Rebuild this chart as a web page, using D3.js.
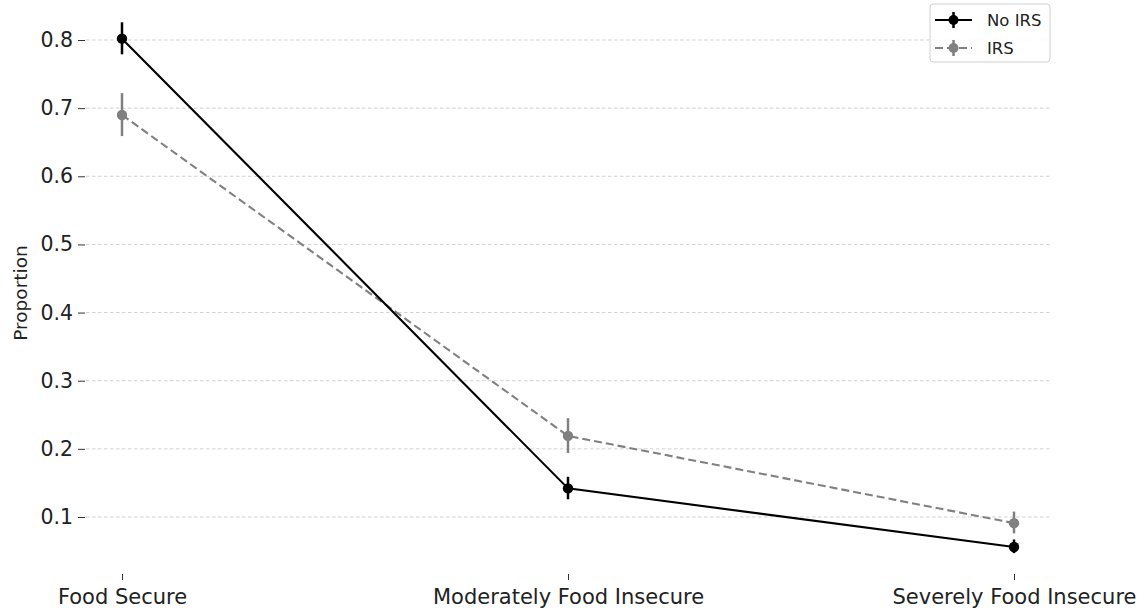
<!DOCTYPE html>
<html>
<head>
<meta charset="utf-8">
<script src="https://cdn.jsdelivr.net/npm/d3@7"></script>
<style>
body{margin:0;background:#fff;}
svg{display:block;}
svg text{font-family:"DejaVu Sans",sans-serif;}
</style>
</head>
<body>
<script>
let cats=["Food Secure","Moderately Food Insecure","Severely Food Insecure"];
let yTicks=[0.1,0.2,0.3,0.4,0.5,0.6,0.7,0.8];
let noIrs=[0.802,0.142,0.056];
let noIrsLo=[0.779,0.126,0.047];
let noIrsHi=[0.826,0.159,0.067];
let irs=[0.690,0.219,0.091];
let irsLo=[0.659,0.194,0.076];
let irsHi=[0.722,0.245,0.108];

let w=1148,h=611;
let svg=d3.select("body").append("svg").attr("width",w).attr("height",h);

// plot area
let padL=86,padR=1050,padB=574;
let x=d3.scalePoint().domain(cats).range([122,1014]);
let y=d3.scaleLinear().domain([0.1,0.8]).range([517,40]);

// grid
svg.append("g").selectAll("line").data(yTicks).enter().append("line")
  .attr("x1",padL).attr("x2",padR)
  .attr("y1",d=>y(d)).attr("y2",d=>y(d))
  .attr("stroke","#cccccc").attr("stroke-width",0.9).attr("stroke-dasharray","3.5,2.5");

let yAxis=d3.axisLeft(y).tickValues(yTicks).tickFormat(d3.format(".1f")).tickSize(7).tickPadding(5);
let gy=svg.append("g").attr("transform","translate("+(padL-1)+",0)").call(yAxis);
gy.select(".domain").remove();
gy.selectAll("line").attr("stroke","#333").attr("stroke-width",1);
gy.selectAll("text").style("font-size","20.5px").style("font-family","'DejaVu Sans'").attr("fill","#222");

let xAxis=d3.axisBottom(x).tickSize(6).tickPadding(9);
let gx=svg.append("g").attr("transform","translate(0,"+padB+")").call(xAxis);
gx.select(".domain").remove();
gx.selectAll("line").attr("stroke","#333").attr("stroke-width",1);
gx.selectAll("text").style("font-size","21px").style("font-family","'DejaVu Sans'").attr("fill","#222");

svg.append("text").text("Proportion")
  .attr("transform","translate(27,293) rotate(-90)")
  .style("text-anchor","middle").style("font-size","18.5px").attr("fill","#222");

function series(vals,lo,hi,color,dash){
  let g=svg.append("g");
  let line=d3.line().x((d,i)=>x(cats[i])).y(d=>y(d));
  g.append("path").attr("d",line(vals)).attr("fill","none")
    .attr("stroke",color).attr("stroke-width",2.1).attr("stroke-dasharray",dash);
  g.selectAll(".eb").data(vals).enter().append("line")
    .attr("x1",(d,i)=>x(cats[i])).attr("x2",(d,i)=>x(cats[i]))
    .attr("y1",(d,i)=>y(lo[i])).attr("y2",(d,i)=>y(hi[i]))
    .attr("stroke",color).attr("stroke-width",2.5);
  g.selectAll("circle").data(vals).enter().append("circle")
    .attr("cx",(d,i)=>x(cats[i])).attr("cy",d=>y(d)).attr("r",5.2).attr("fill",color);
}
series(irs,irsLo,irsHi,"#808080","8,4");
series(noIrs,noIrsLo,noIrsHi,"#000","none");

// legend
let lg=svg.append("g").attr("transform","translate(930,4)");
lg.append("rect").attr("width",120).attr("height",58).attr("rx",3)
  .attr("fill","#fff").attr("fill-opacity",0.85).attr("stroke","#d0d0d0");
let legItems=[["No IRS","#000","none"],["IRS","#808080","8,4"]];
legItems.forEach((it,i)=>{
  let yy=16+i*28;
  lg.append("line").attr("x1",5).attr("x2",42).attr("y1",yy).attr("y2",yy)
    .attr("stroke",it[1]).attr("stroke-width",2).attr("stroke-dasharray",it[2]);
  lg.append("line").attr("x1",23.5).attr("x2",23.5).attr("y1",yy-8).attr("y2",yy+8)
    .attr("stroke",it[1]).attr("stroke-width",2.5);
  lg.append("circle").attr("cx",23.5).attr("cy",yy).attr("r",5).attr("fill",it[1]);
  lg.append("text").text(it[0]).attr("x",57).attr("y",yy+6).style("font-size","16.5px").attr("fill","#222");
});
</script>
</body>
</html>
